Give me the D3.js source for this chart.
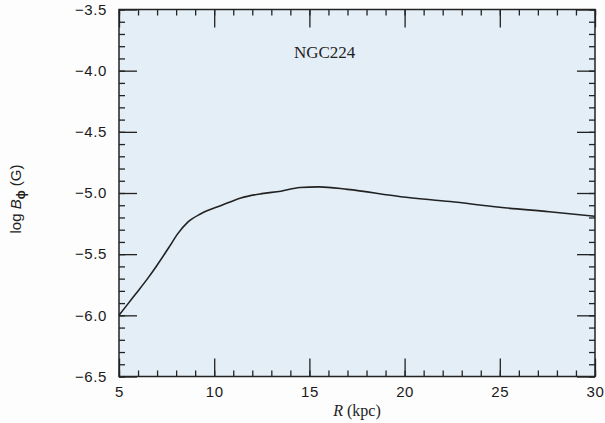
<!DOCTYPE html>
<html>
<head>
<meta charset="utf-8">
<script src="https://cdn.jsdelivr.net/npm/d3@7"></script>
<style>
  body { margin: 0; background: #fdfdfd; }
  .tick text { font-family: "Liberation Sans", Arial, sans-serif; font-size: 15px; letter-spacing: 0.6px; fill: #1a1a1a; }
  .domain { display: none; }
</style>
</head>
<body>
<div id="chart"></div>
<script>
// radius in kpc and log B_phi in G
const radius = [5, 5.8, 6.5, 7, 7.6, 8.1, 8.6, 9.3, 10.4, 11.4, 12.5, 13.5, 14.5, 15.5, 17, 19.8, 22.4, 25, 27.6, 30];
const logB = [-6.0, -5.84, -5.70, -5.59, -5.45, -5.33, -5.24, -5.17, -5.10, -5.04, -5.005, -4.985, -4.955, -4.95, -4.97, -5.03, -5.07, -5.117, -5.153, -5.19];
const xTicks = [5, 10, 15, 20, 25, 30];
const yTicks = [-3.5, -4.0, -4.5, -5.0, -5.5, -6.0, -6.5];
const galaxy = "NGC224";

const svg = d3.select("#chart").append("svg")
    .attr("width", 605)
    .attr("height", 423);

const margin = {top: 9.5, left: 119, right: 10, bottom: 46.5},
      width = 605 - margin.left - margin.right,
      height = 423 - margin.top - margin.bottom;

const x = d3.scaleLinear().domain([5, 30]).range([0, width]),
      y = d3.scaleLinear().domain([-6.5, -3.5]).range([height, 0]);

const g = svg.append("g")
    .attr("transform", `translate(${margin.left},${margin.top})`);

g.append("rect")
    .attr("width", width)
    .attr("height", height)
    .attr("fill", "#e4eef6");

const fmt = d => d3.format(".1f")(d).replace("-", "\u2212");
const minorX = d3.range(5, 30.01, 1);
const minorY = d3.range(-6.5, -3.49, 0.1);

// minor ticks, inward on all four sides
g.append("g").attr("transform", `translate(0,${height})`)
    .call(d3.axisBottom(x).tickValues(minorX).tickSize(-6).tickFormat(""));
g.append("g")
    .call(d3.axisTop(x).tickValues(minorX).tickSize(-6).tickFormat(""));
g.append("g")
    .call(d3.axisLeft(y).tickValues(minorY).tickSize(-6).tickFormat(""));
g.append("g").attr("transform", `translate(${width},0)`)
    .call(d3.axisRight(y).tickValues(minorY).tickSize(-6).tickFormat(""));

// major ticks
g.append("g").attr("transform", `translate(0,${height})`)
    .call(d3.axisBottom(x).tickValues(xTicks).tickSize(-18).tickPadding(10).tickFormat(d3.format("d")));
g.append("g")
    .call(d3.axisTop(x).tickValues(xTicks).tickSize(-18).tickFormat(""));
g.append("g")
    .call(d3.axisLeft(y).tickValues(yTicks).tickSize(-18).tickPadding(12).tickFormat(fmt));
g.append("g").attr("transform", `translate(${width},0)`)
    .call(d3.axisRight(y).tickValues(yTicks).tickSize(-18).tickFormat(""));

g.selectAll(".tick line").attr("stroke", "#222").attr("stroke-width", 1.3);

g.append("rect")
    .attr("width", width)
    .attr("height", height)
    .attr("fill", "none")
    .attr("stroke", "#222")
    .attr("stroke-width", 1.5);

g.append("path")
    .datum(radius.map((r, i) => [r, logB[i]]))
    .attr("fill", "none")
    .attr("stroke", "#222")
    .attr("stroke-width", 1.6)
    .attr("d", d3.line()
        .x(d => x(d[0]))
        .y(d => y(d[1]))
        .curve(d3.curveMonotoneX));

g.append("text")
    .attr("x", x(15.8))
    .attr("y", 48)
    .attr("text-anchor", "middle")
    .style("font-family", "'Liberation Serif', serif")
    .style("font-size", "17px")
    .attr("fill", "#222")
    .text(galaxy);

// axis titles
const xt = svg.append("text")
    .attr("x", 357)
    .attr("y", 416)
    .attr("text-anchor", "middle")
    .style("font-family", "'Liberation Serif', serif")
    .style("font-size", "16px")
    .attr("fill", "#222");
xt.append("tspan").style("font-style", "italic").text("R");
xt.append("tspan").text(" (kpc)");

const yt = svg.append("text")
    .attr("transform", "translate(21,199) rotate(-90)")
    .attr("text-anchor", "middle")
    .style("font-family", "'Liberation Sans', Arial, sans-serif")
    .style("font-size", "15px")
    .attr("fill", "#222");
yt.append("tspan").text("log ");
yt.append("tspan").style("font-style", "italic").text("B");
yt.append("tspan").attr("dy", 4).style("font-size", "12px").style("font-weight", "bold").text("\u03d5");
yt.append("tspan").attr("dy", -4).text(" (G)");
</script>
</body>
</html>
